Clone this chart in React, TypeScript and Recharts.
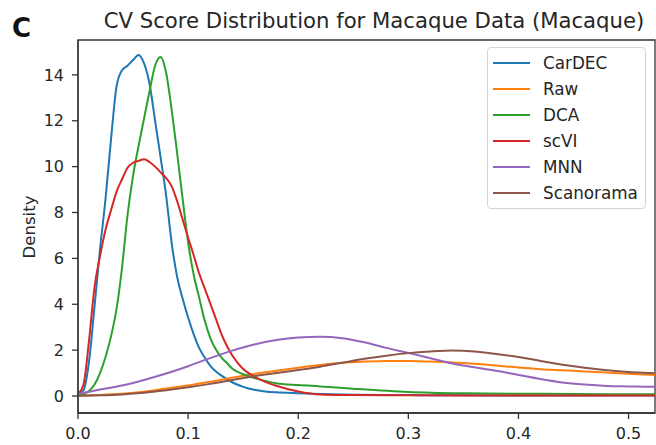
import React from 'react';
import { LineChart, Line, XAxis, YAxis, Legend, Label, ReferenceArea } from 'recharts';

// x grid for the sharply peaked curves (dense near the peaks)
const denseX = [
  0, 0.005, 0.01, 0.015, 0.02, 0.025, 0.03, 0.035, 0.04, 0.045, 0.05, 0.055, 0.06, 0.065, 0.07, 0.075,
  0.08, 0.085, 0.09, 0.095, 0.1, 0.105, 0.11, 0.115, 0.12, 0.125, 0.13, 0.135, 0.14, 0.145, 0.15,
  0.16, 0.17, 0.18, 0.2, 0.22, 0.25, 0.3, 0.35, 0.4, 0.45, 0.5, 0.524,
];
// x grid for the broad curves
const broadX = [
  0, 0.02, 0.04, 0.06, 0.08, 0.1, 0.12, 0.14, 0.16, 0.18, 0.2, 0.22, 0.24, 0.26, 0.28, 0.3,
  0.32, 0.34, 0.36, 0.38, 0.4, 0.42, 0.44, 0.46, 0.48, 0.5, 0.52, 0.524,
];

const cardec = [
  0.05, 0.25, 1.5, 3.9, 6.4, 8.6, 11.2, 13.5, 14.2, 14.4, 14.65, 14.87, 14.5, 13.6, 12.0, 10.4,
  8.75, 6.7, 5.2, 4.25, 3.42, 2.7, 2.1, 1.68, 1.33, 1.08, 0.9, 0.74, 0.6, 0.49, 0.4,
  0.27, 0.2, 0.16, 0.12, 0.09, 0.06, 0.04, 0.03, 0.02, 0.02, 0.02, 0.02,
];
const dca = [
  0.02, 0.08, 0.22, 0.5, 1.0, 1.7, 2.6, 3.8, 5.6, 7.9, 9.6, 10.9, 12.1, 13.3, 14.4, 14.78,
  14.1, 12.5, 10.6, 8.6, 6.7, 5.3, 4.3, 3.3, 2.55, 2.05, 1.7, 1.45, 1.2, 1.05, 0.95,
  0.78, 0.66, 0.56, 0.48, 0.42, 0.32, 0.18, 0.12, 0.1, 0.09, 0.08, 0.08,
];
const scvi = [
  0.08, 0.5, 2.4, 4.75, 6.1, 7.25, 8.1, 8.9, 9.45, 9.95, 10.17, 10.25, 10.32, 10.2, 10.0, 9.75,
  9.5, 9.15, 8.5, 7.7, 6.9, 6.15, 5.35, 4.7, 4.05, 3.4, 2.73, 2.2, 1.78, 1.45, 1.18,
  0.85, 0.62, 0.45, 0.2, 0.07, 0.04, 0.03, 0.02, 0.02, 0.02, 0.02, 0.02,
];
const raw = [
  0.02, 0.05, 0.1, 0.19, 0.33, 0.46, 0.62, 0.8, 0.96, 1.1, 1.23, 1.35, 1.45, 1.5, 1.53, 1.53,
  1.5, 1.46, 1.41, 1.33, 1.24, 1.17, 1.12, 1.07, 1.02, 0.97, 0.93, 0.92,
];
const mnn = [
  0.1, 0.28, 0.46, 0.7, 0.98, 1.3, 1.65, 1.98, 2.25, 2.44, 2.55, 2.58, 2.52, 2.34, 2.1, 1.88,
  1.65, 1.42, 1.25, 1.1, 0.92, 0.74, 0.59, 0.5, 0.44, 0.42, 0.4, 0.4,
];
const scanorama = [
  0.01, 0.03, 0.07, 0.14, 0.25, 0.38, 0.53, 0.7, 0.86, 1.0, 1.13, 1.28, 1.45, 1.62, 1.76, 1.87,
  1.94, 1.98, 1.94, 1.83, 1.7, 1.53, 1.36, 1.23, 1.12, 1.05, 1.0, 0.99,
];

const xTicks = [0, 0.1, 0.2, 0.3, 0.4, 0.5];
const yTicks = [0, 2, 4, 6, 8, 10, 12, 14];
const xDomain = [0, 0.524];
const yDomain = [-0.74, 15.52];

const toPoints = (xs: number[], ys: number[]) => xs.map((x, i) => ({ x, y: ys[i] }));

const series = [
  { name: 'CarDEC', color: '#1f77b4', data: toPoints(denseX, cardec) },
  { name: 'Raw', color: '#ff7f0e', data: toPoints(broadX, raw) },
  { name: 'DCA', color: '#2ca02c', data: toPoints(denseX, dca) },
  { name: 'scVI', color: '#d62728', data: toPoints(denseX, scvi) },
  { name: 'MNN', color: '#9467bd', data: toPoints(broadX, mnn) },
  { name: 'Scanorama', color: '#8c564b', data: toPoints(broadX, scanorama) },
];

const FONT = '"DejaVu Sans", sans-serif';
const AXIS = '#333';
const tickStyle = { fontSize: 16, fill: '#262626', fontFamily: FONT };

const LegendBox = () => (
  <div
    style={{
      border: '1px solid #d4d4d4',
      borderRadius: 4,
      background: 'rgba(255,255,255,0.85)',
      padding: '2px 0',
      width: 157,
      fontFamily: FONT,
      fontSize: 16.8,
      color: '#262626',
    }}
  >
    {series.map((s) => (
      <div key={s.name} style={{ display: 'flex', alignItems: 'center', height: 26 }}>
        <svg width={50} height={26} style={{ flex: 'none' }}>
          <line x1={5} x2={42} y1={13} y2={13} stroke={s.color} strokeWidth={2.2} />
        </svg>
        <span style={{ marginLeft: 5, lineHeight: '26px' }}>{s.name}</span>
      </div>
    ))}
  </div>
);

export default function App() {
  return (
    <div style={{ position: 'absolute', left: 0, top: 0, width: 656, height: 445, background: '#fff' }}>
      <div
        style={{
          position: 'absolute', left: 12, top: 15, fontFamily: FONT, fontWeight: 'bold',
          fontSize: 26, lineHeight: '26px', color: '#111',
        }}
      >
        C
      </div>
      <div
        style={{
          position: 'absolute', left: 74, width: 600, top: 10, textAlign: 'center', fontFamily: FONT,
          fontSize: 21.2, lineHeight: '21.2px', color: '#262626', whiteSpace: 'nowrap',
        }}
      >
        CV Score Distribution for Macaque Data (Macaque)
      </div>
      <LineChart width={656} height={445} margin={{ top: 40, right: 1, bottom: 0, left: 0 }}>
        <XAxis
          type="number"
          dataKey="x"
          domain={xDomain}
          ticks={xTicks}
          allowDataOverflow
          tickFormatter={(v: number) => v.toFixed(1)}
          tick={tickStyle}
          tickSize={6}
          tickMargin={9}
          height={32}
          stroke={AXIS}
          strokeWidth={1.3}
        />
        <YAxis
          type="number"
          dataKey="y"
          domain={yDomain}
          ticks={yTicks}
          allowDataOverflow
          tick={tickStyle}
          tickSize={6}
          tickMargin={8}
          width={78}
          stroke={AXIS}
          strokeWidth={1.3}
        >
          <Label
            content={() => (
              <text
                x={29}
                y={227}
                transform="rotate(-90 29 227)"
                textAnchor="middle"
                dominantBaseline="central"
                style={{ fontFamily: FONT, fontSize: 16.6, fill: '#262626' }}
              >
                Density
              </text>
            )}
          />
        </YAxis>
        {/* frame round the plot, like matplotlib's spines */}
        <ReferenceArea
          x1={xDomain[0]}
          x2={xDomain[1]}
          y1={yDomain[0]}
          y2={yDomain[1]}
          fill="none"
          fillOpacity={0}
          stroke={AXIS}
          strokeWidth={1.3}
          ifOverflow="visible"
        />
        {series.map((s) => (
          <Line
            key={s.name}
            data={s.data}
            dataKey="y"
            name={s.name}
            type="monotone"
            stroke={s.color}
            strokeWidth={2}
            dot={false}
            activeDot={false}
            isAnimationActive={false}
          />
        ))}
        <Legend
          layout="vertical"
          align="center"
          verticalAlign="middle"
          content={() => <LegendBox />}
          wrapperStyle={{ top: 47, left: 487, width: 159 }}
        />
      </LineChart>
    </div>
  );
}
